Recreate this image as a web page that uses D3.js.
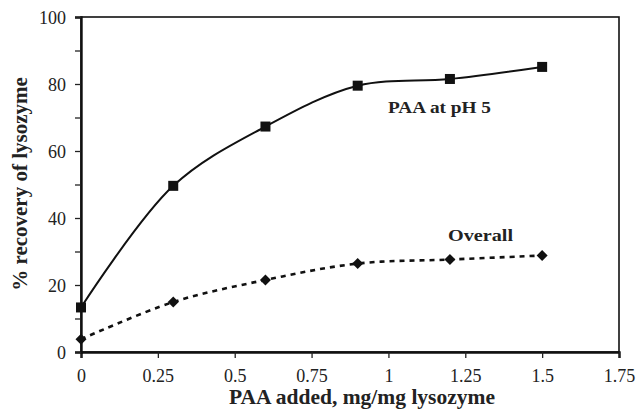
<!DOCTYPE html>
<html><head><meta charset="utf-8">
<script src="https://cdn.jsdelivr.net/npm/d3@7"></script>
</head><body>
<svg id="c" width="636" height="409" style="position:absolute;left:0;top:0;background:#fff"></svg>
<script>
const xValues = [0, 0.3, 0.6, 0.9, 1.2, 1.5];
const paaPH5 = [13.3, 49.6, 67.3, 79.5, 81.5, 85.1];
const overall = [3.8, 14.9, 21.5, 26.4, 27.6, 28.8];
const xTicks = [0, 0.25, 0.5, 0.75, 1, 1.25, 1.5, 1.75];
const yTicks = [0, 20, 40, 60, 80, 100];
const yMinorTicks = [10, 30, 50, 70, 90];

const svg = d3.select("#c");
const m = {l: 81, r: 619, t: 17, b: 352};
const x = d3.scaleLinear().domain([0, 1.75]).range([m.l, m.r]);
const y = d3.scaleLinear().domain([0, 100]).range([m.b, m.t]);
const serif = "Liberation Serif";

svg.append("rect").attr("x", m.l).attr("y", m.t).attr("width", m.r - m.l).attr("height", m.b - m.t)
  .attr("fill", "none").attr("stroke", "#111").attr("stroke-width", 1.6);

const xa = svg.append("g").attr("transform", `translate(0,${m.b})`)
  .call(d3.axisBottom(x).tickValues(xTicks).tickSize(6).tickPadding(11).tickFormat(d => String(d)));
const ya = svg.append("g").attr("transform", `translate(${m.l},0)`)
  .call(d3.axisLeft(y).tickValues(yTicks).tickSize(6).tickPadding(9).tickFormat(d => String(d)));
svg.append("g").attr("transform", `translate(${m.l},0)`)
  .call(d3.axisLeft(y).tickValues(yMinorTicks).tickSize(6).tickFormat(""))
  .call(g => g.select(".domain").remove());
svg.selectAll("g").attr("font-family", serif).attr("font-size", null);
svg.selectAll(".domain").attr("stroke", "#111").attr("stroke-width", 2.4);
svg.selectAll(".tick line").attr("stroke", "#222").attr("stroke-width", 1.3);
svg.selectAll(".tick text").style("font-family", serif).style("font-size", "18px").attr("fill", "#222");
ya.selectAll(".tick text").attr("dy", "0.35em");

const curve = d3.curveCatmullRom.alpha(0.5);
const line1 = d3.line().x((d, i) => x(xValues[i])).y(d => y(d)).curve(curve);
svg.append("path").attr("d", line1(paaPH5)).attr("fill", "none").attr("stroke", "#111").attr("stroke-width", 2);
svg.append("path").attr("d", line1(overall)).attr("fill", "none").attr("stroke", "#111")
  .attr("stroke-width", 2.6).attr("stroke-dasharray", "5,5");

svg.selectAll(".sq").data(paaPH5).enter().append("rect")
  .attr("x", (d, i) => x(xValues[i]) - 5).attr("y", d => y(d) - 5)
  .attr("width", 10).attr("height", 10).attr("fill", "#111");
svg.selectAll(".dm").data(overall).enter().append("path")
  .attr("d", "M0,-5.5L5.5,0L0,5.5L-5.5,0Z")
  .attr("transform", (d, i) => `translate(${x(xValues[i])},${y(d)})`).attr("fill", "#111");

svg.append("text").attr("x", 388).attr("y", 113).style("font-family", serif).style("font-weight", "bold")
  .style("font-size", "17.5px").attr("textLength", 103).attr("lengthAdjust", "spacingAndGlyphs")
  .attr("fill", "#222").text("PAA at pH 5");
svg.append("text").attr("x", 448).attr("y", 241).style("font-family", serif).style("font-weight", "bold")
  .style("font-size", "17.5px").attr("textLength", 65).attr("lengthAdjust", "spacingAndGlyphs")
  .attr("fill", "#222").text("Overall");

svg.append("text").attr("x", 362).attr("y", 404).attr("text-anchor", "middle").style("font-family", serif)
  .style("font-weight", "bold").style("font-size", "21.5px").attr("fill", "#222").text("PAA added, mg/mg lysozyme");
svg.append("text").attr("transform", "translate(27,184) rotate(-90)").attr("text-anchor", "middle")
  .style("font-family", serif).style("font-weight", "bold").style("font-size", "21px").attr("fill", "#222")
  .text("% recovery of lysozyme");
</script>
</body></html>
